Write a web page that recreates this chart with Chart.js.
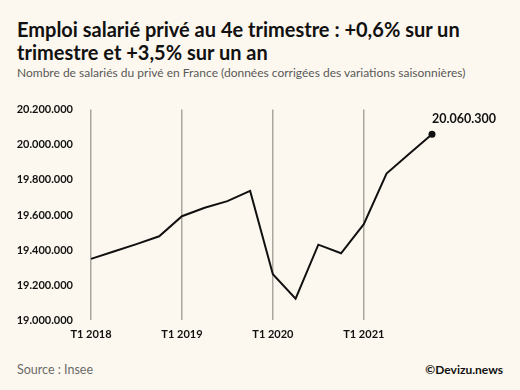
<!DOCTYPE html>
<html lang="fr">
<head>
<meta charset="utf-8">
<script src="https://cdn.jsdelivr.net/npm/chart.js@4"></script>
<style>
  body { margin: 0; background: #fdf8ef; width: 520px; height: 390px; overflow: hidden; position: relative; font-family: Lato, "Noto Sans", sans-serif; color: #111; }
  h1 { position: absolute; left: 17px; top: 18px; margin: 0; font-size: 20px; line-height: 23px; font-weight: 700; width: 495px; }
  .sub { position: absolute; left: 17px; top: 65px; font-size: 12px; color: #595959; }
  .src { position: absolute; left: 17px; top: 362px; font-size: 12.5px; color: #6a6a6a; }
  .copy { position: absolute; right: 17px; top: 362px; font-size: 12px; font-weight: 700; }
  #wrap { position: absolute; left: 0; top: 85px; width: 520px; height: 260px; }
</style>
</head>
<body>
<h1>Emploi salarié privé au 4e trimestre : +0,6% sur un trimestre et +3,5% sur un an</h1>
<div class="sub">Nombre de salariés du privé en France (données corrigées des variations saisonnières)</div>
<div id="wrap"><canvas id="emploiChart"></canvas></div>
<div class="src">Source : Insee</div>
<div class="copy">©Devizu.news</div>
<script>
// trimestres T1 2018 -> T4 2021
const quarters = [
  'T1 2018', 'T2 2018', 'T3 2018', 'T4 2018',
  'T1 2019', 'T2 2019', 'T3 2019', 'T4 2019',
  'T1 2020', 'T2 2020', 'T3 2020', 'T4 2020',
  'T1 2021', 'T2 2021', 'T3 2021', 'T4 2021'
];
const salaries = [
  19350000, 19392000, 19434000, 19479000,
  19593000, 19641000, 19679000, 19737000,
  19263000, 19124000, 19431000, 19382000,
  19548000, 19836000, 19948000, 20060300
];
const yTicks = [19000000, 19200000, 19400000, 19600000, 19800000, 20000000, 20200000];

const fmt = v => Math.round(v).toString().replace(/\B(?=(\d{3})+(?!\d))/g, '.');
const last = salaries.length - 1;

// étiquette de la dernière valeur
const lastLabel = {
  id: 'lastLabel',
  afterDatasetsDraw(chart) {
    const pt = chart.getDatasetMeta(0).data[last];
    const ctx = chart.ctx;
    ctx.save();
    ctx.font = 'bold 12.5px Lato, "Noto Sans", sans-serif';
    ctx.fillStyle = '#111';
    ctx.textAlign = 'left';
    ctx.textBaseline = 'middle';
    ctx.fillText(fmt(salaries[last]), pt.x, pt.y - 15);
    ctx.restore();
  }
};

new Chart(document.getElementById('emploiChart'), {
  type: 'line',
  data: {
    labels: quarters,
    datasets: [{
      data: salaries,
      borderColor: '#111',
      borderWidth: 2,
      tension: 0,
      pointRadius: ctx => ctx.dataIndex === last ? 3.5 : 0,
      pointBackgroundColor: '#111',
      pointBorderWidth: 0
    }]
  },
  options: {
    responsive: true,
    maintainAspectRatio: false,
    animation: false,
    layout: { padding: { top: 16, right: 88, bottom: 0, left: 0 } },
    plugins: { legend: { display: false }, tooltip: { enabled: false } },
    scales: {
      x: {
        offset: false,
        grid: {
          drawTicks: false,
          lineWidth: 1.5,
          color: ctx => ctx.index % 4 === 0 ? '#a9a6a0' : 'rgba(0,0,0,0)'
        },
        border: { display: false },
        afterFit: s => { s.height = 22; },
        ticks: {
          autoSkip: false,
          maxRotation: 0,
          padding: 7,
          color: '#111',
          font: { family: 'Lato, "Noto Sans", sans-serif', size: 11, weight: 'bold' },
          callback: (v, i) => i % 4 === 0 ? quarters[i] : ''
        }
      },
      y: {
        min: yTicks[0],
        max: yTicks[yTicks.length - 1],
        afterBuildTicks: s => { s.ticks = yTicks.map(v => ({ value: v })); },
        afterFit: s => { s.width = 91; },
        grid: { display: false, drawTicks: false },
        border: { display: false },
        ticks: {
          padding: 18,
          color: '#111',
          font: { family: 'Lato, "Noto Sans", sans-serif', size: 11, weight: 'bold' },
          callback: v => fmt(v)
        }
      }
    }
  },
  plugins: [lastLabel]
});
</script>
</body>
</html>
